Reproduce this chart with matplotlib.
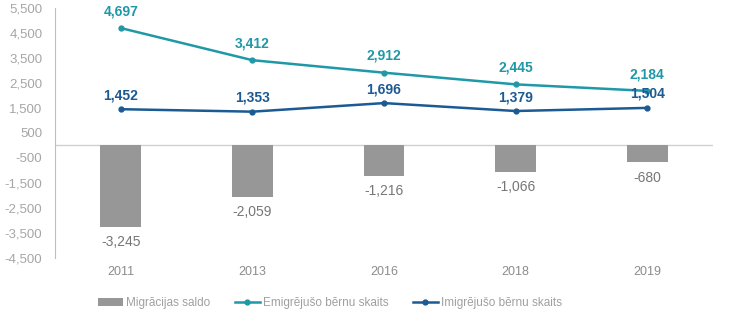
import matplotlib.pyplot as plt
import numpy as np

plt.rcParams["font.family"] = ["Liberation Sans", "DejaVu Sans"]

years = ["2011", "2013", "2016", "2018", "2019"]
saldo = [-3245, -2059, -1216, -1066, -680]
emigrated = [4697, 3412, 2912, 2445, 2184]
immigrated = [1452, 1353, 1696, 1379, 1504]

grey_bar = "#979797"
teal = "#1f98a8"
blue = "#1c5a94"
tick_grey = "#a6a6a6"

fig = plt.figure(figsize=(7.3, 3.26), dpi=100)
ax = fig.add_axes([0.0753, 0.2086, 0.9015, 0.7669])
x = np.arange(len(years))

bars = ax.bar(x, saldo, width=0.31, color=grey_bar, label="Migrācijas saldo", zorder=2)
l1, = ax.plot(x, emigrated, color=teal, lw=1.8, marker="o", ms=3.5,
              label="Emigrējušo bērnu skaits", zorder=3)
l2, = ax.plot(x, immigrated, color=blue, lw=1.8, marker="o", ms=3.5,
              label="Imigrējušo bērnu skaits", zorder=3)

for xi, v in zip(x, emigrated):
    ax.annotate(f"{v:,}", (xi, v), xytext=(0, 7), textcoords="offset points",
                ha="center", va="bottom", color=teal, fontsize=10, fontweight="bold")
for xi, v in zip(x, immigrated):
    ax.annotate(f"{v:,}", (xi, v), xytext=(0, 5), textcoords="offset points",
                ha="center", va="bottom", color=blue, fontsize=10, fontweight="bold")
for xi, v in zip(x, saldo):
    ax.annotate(f"{v:,}", (xi, v), xytext=(0, -6), textcoords="offset points",
                ha="center", va="top", color="#767676", fontsize=10)

ax.set_xlim(-0.5, len(years) - 0.5)
ax.set_ylim(-4500, 5500)
ax.set_yticks(np.arange(-4500, 5501, 1000))
ax.set_yticklabels([f"{t:,}" for t in np.arange(-4500, 5501, 1000)])
ax.set_xticks(x)
ax.set_xticklabels(years)
ax.tick_params(axis="y", length=0, labelsize=9.5, labelcolor=tick_grey, pad=9)
ax.tick_params(axis="x", length=0, labelsize=9, labelcolor="#8c8c8c", pad=6)
ax.xaxis.set_ticks_position("none")

for side in ["top", "right", "bottom"]:
    ax.spines[side].set_visible(False)
ax.spines["left"].set_color("#bfbfbf")
ax.spines["left"].set_linewidth(0.8)
ax.axhline(0, color="#d0d0d0", lw=1.0, zorder=1)

leg = fig.legend(handles=[bars, l1, l2], loc="center", bbox_to_anchor=(0.452, 0.07),
                 ncol=3, frameon=False, fontsize=8.5, handlelength=2.1,
                 columnspacing=2.1, handletextpad=0.25)
for t in leg.get_texts():
    t.set_color("#a0a0a0")

fig.savefig("out.png", dpi=100)
